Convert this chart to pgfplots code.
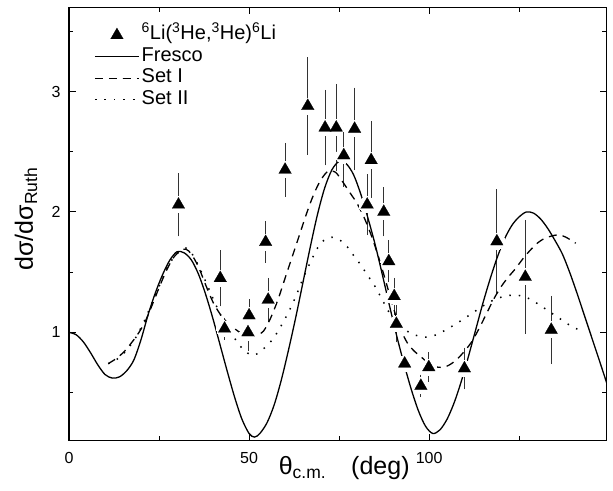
\documentclass[border=0pt]{standalone}
\usepackage{fontspec}
\setmainfont{Liberation Sans}
\usepackage{pgfplots}
\usepackage{pgfplotstable}
\pgfplotsset{compat=1.18}

\pgfplotstableread{
x y e
30.4 2.06 0.23
42.0 1.45 0.20
43.2 1.03 0.06
49.7 1.00 0.12
50.0 1.14 0.10
54.6 1.75 0.14
55.3 1.27 0.15
60.0 2.35 0.19
66.3 2.88 0.37
71.1 2.70 0.28
74.2 2.70 0.33
76.3 2.47 0.23
79.3 2.69 0.31
82.8 2.06 0.22
83.9 2.43 0.29
87.4 2.00 0.17
88.8 1.59 0.14
90.3 1.30 0.12
90.9 1.07 0.12
93.2 0.74 0.04
97.7 0.555 0.06
99.9 0.71 0.09
109.8 0.70 0.14
118.8 1.755 0.40
126.7 1.46 0.44
133.9 1.02 0.25
}\expdata

\pgfplotstableread{
x y
0 1.00
2 0.98
4 0.92
6 0.83
8 0.73
10 0.65
12 0.62
14 0.63
16 0.68
18 0.77
20 0.94
22 1.15
24 1.33
26 1.48
28 1.60
30 1.67
32 1.66
34 1.60
36 1.48
38 1.31
40 1.11
42 0.89
44 0.67
46 0.46
48 0.28
50 0.16
51.5 0.13
53 0.16
55 0.25
57 0.40
59 0.61
61 0.86
63 1.13
65 1.42
67 1.71
69 1.98
71 2.20
73 2.35
75 2.42
77 2.40
79 2.31
81 2.15
83 1.95
85 1.73
87 1.48
89 1.22
91 0.97
93 0.74
95 0.53
97 0.35
99 0.22
101 0.16
103 0.19
105 0.28
107 0.42
109 0.60
111 0.81
113 1.03
115 1.25
117 1.45
119 1.63
121 1.78
123 1.89
125 1.96
127 2.00
129 1.99
131 1.94
133 1.86
135 1.76
137 1.65
139 1.50
141 1.33
143 1.15
145 0.97
147 0.79
149.3 0.58
}\fresco

\pgfplotstableread{
x y
10.9 0.74
13 0.78
15 0.83
17 0.90
19 0.98
21 1.08
23 1.22
25 1.37
27 1.51
29 1.62
31 1.68
32.5 1.69
34 1.65
36 1.54
38 1.39
40 1.25
42 1.15
44 1.08
46 1.03
48 0.99
50 0.97
52 0.97
54 1.01
56 1.12
58 1.27
60 1.45
62 1.63
64 1.81
66 1.99
68 2.15
70 2.27
72 2.34
74 2.33
76 2.25
78 2.16
80 2.07
82 1.95
84 1.80
86 1.62
88 1.42
90 1.21
92 1.03
94 0.91
96 0.84
98 0.79
100 0.74
102.5 0.71
105 0.72
107.5 0.77
110 0.85
112 0.93
114 1.04
116 1.16
118 1.28
120 1.38
122 1.46
124 1.53
126 1.61
128 1.68
130 1.74
132 1.78
134 1.80
136 1.81
138 1.79
140.7 1.74
}\setone

\pgfplotstableread{
x y
10.9 0.74
13 0.77
15 0.82
17 0.89
19 0.98
21 1.10
23 1.24
25 1.38
27 1.52
29 1.62
31 1.68
32.5 1.70
34 1.66
36 1.55
38 1.42
40 1.28
42 1.15
44 1.04
46 0.95
48 0.87
50 0.82
51.5 0.81
53 0.84
55 0.89
57 0.96
59 1.06
61 1.17
63 1.30
65 1.45
67 1.58
69 1.70
71 1.77
73 1.79
75 1.77
77 1.72
79 1.64
81 1.56
83 1.47
85 1.38
87 1.27
89 1.16
91 1.08
93 1.03
95 0.99
97 0.97
99.5 0.96
102 0.98
104 1.01
106.3 1.05
109 1.10
112 1.16
115 1.22
118 1.27
121 1.30
124 1.31
127 1.29
130 1.24
133 1.18
136 1.12
139 1.06
141.6 1.02
}\settwo

\begin{document}
\begin{tikzpicture}
\useasboundingbox (-69pt,-49.3pt) rectangle (544pt,440.7pt);
\begin{axis}[
  at={(0pt,0pt)}, anchor=south west,
  scale only axis, width=537.7pt, height=433.4pt,
  xmin=0, xmax=149.3, ymin=0.1, ymax=3.7,
  xtick={0,50,100}, minor xtick={25,75,125},
  ytick={1,2,3}, minor ytick={0.5,1.5,2.5,3.5},
  tick align=inside,
  major tick length=7pt, minor tick length=4.5pt,
  every tick/.style={black, line width=1pt},
  axis line style={line width=1.2pt},
  tick label style={font=\fontsize{16}{18}\selectfont},
  /pgf/number format/assume math mode=true,
  xticklabel style={yshift=-8pt},
  yticklabel style={xshift=-5pt},
  xlabel={θ\textsubscript{c.m.}\hspace{1.0em}(deg)},
  ylabel={dσ/dσ\textsubscript{Ruth}},
  xlabel style={at={(axis description cs:0.5118,-0.0785)}, anchor=base, font=\fontsize{25}{29}\selectfont},
  ylabel style={at={(axis description cs:-0.067,0.5115)}, anchor=base, font=\fontsize{25}{29}\selectfont},
  legend style={at={(axis description cs:0,1)}, anchor=north west, xshift=25pt, yshift=-17pt,
    draw=none, fill=none, inner sep=0pt, row sep=0pt,
    font=\fontsize{20}{24}\selectfont,
    nodes={inner sep=2pt, text height=13.5pt, text depth=4pt}},
  legend cell align=left,
  legend image code/.code={\draw[mark repeat=2,mark phase=2,#1] plot coordinates {(0pt,0pt) (22pt,0pt) (44pt,0pt)};},
]
\addplot[draw=none, forget plot,
  error bars/.cd, y dir=both, y explicit, error mark=-,
  error bar style={draw=black!80, line width=0.8pt},
  error mark options={mark size=4pt, line width=0.8pt, draw=black!80}]
  table[x=x, y=y, y error=e] {\expdata};
\addplot[only marks, mark=*, mark size=8pt, draw=white, fill=white, mark options={draw=white, fill=white, line width=0pt}, forget plot]
  table[x=x, y=y] {\expdata};
\addplot[only marks, mark=triangle*, mark size=7.3pt, mark options={fill=black, draw=black, line width=0.2pt}]
  table[x=x, y=y] {\expdata};
\addlegendentry{\textsuperscript{6}Li(\textsuperscript{3}He,\textsuperscript{3}He)\textsuperscript{6}Li}
\addplot[black, line width=1.3pt, smooth, mark=none] table[x=x, y=y] {\fresco};
\addlegendentry{Fresco}
\addplot[black, line width=1.3pt, smooth, mark=none, dash pattern=on 8pt off 6pt] table[x=x, y=y] {\setone};
\addlegendentry{Set I}
\addplot[black, line width=1.5pt, smooth, mark=none, dash pattern=on 1.5pt off 8pt] table[x=x, y=y] {\settwo};
\addlegendentry{Set II}
\end{axis}
\end{tikzpicture}
\end{document}
